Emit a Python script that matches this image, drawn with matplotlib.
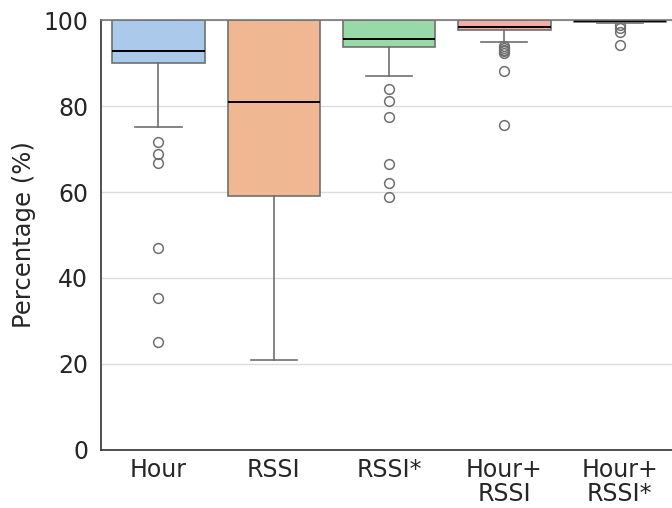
import matplotlib
matplotlib.use("Agg")
import matplotlib.pyplot as plt
import seaborn as sns

# Summary statistics for each model variant (percentage)
labels = ["Hour", "RSSI", "RSSI*", "Hour+\nRSSI", "Hour+\nRSSI*"]
medians = [92.7, 80.9, 95.7, 98.3, 99.8]
q1s = [90.0, 59.1, 93.8, 97.7, 99.6]
q3s = [100.0, 100.0, 100.0, 100.0, 100.0]
whis_low = [75.1, 20.9, 87.0, 94.8, 99.3]
whis_high = [100.0, 100.0, 100.0, 100.0, 100.0]
outliers = [
    [71.6, 68.8, 66.8, 47.0, 35.3, 25.1],
    [],
    [84.0, 81.1, 77.5, 66.6, 62.1, 58.8],
    [93.9, 93.5, 93.1, 92.7, 92.3, 88.1, 75.6],
    [98.8, 98.2, 97.3, 94.2],
]

palette = [sns.desaturate(c, 0.75) for c in sns.color_palette("pastel", 5)]
line_gray = "#6f6f6f"

plt.rcParams["font.family"] = ["DejaVu Sans"]

fig = plt.figure(figsize=(6.72, 5.08), dpi=100)
ax = fig.add_axes([0.150, 0.1142, 0.858, 0.8464])

stats = []
for lab, med, q1, q3, lo, hi, fl in zip(labels, medians, q1s, q3s,
                                        whis_low, whis_high, outliers):
    stats.append(dict(label=lab, med=med, q1=q1, q3=q3,
                      whislo=lo, whishi=hi, fliers=fl))

ax.yaxis.grid(True, color="#dcdcdc", linewidth=1.0, zorder=0)
ax.set_axisbelow(True)

bp = ax.bxp(
    stats,
    positions=range(len(labels)),
    widths=0.8,
    capwidths=0.4,
    patch_artist=True,
    boxprops=dict(edgecolor=line_gray, linewidth=1.2),
    medianprops=dict(color="black", linewidth=1.4),
    whiskerprops=dict(color=line_gray, linewidth=1.2),
    capprops=dict(color=line_gray, linewidth=1.2),
    flierprops=dict(marker="o", markerfacecolor="none",
                    markeredgecolor=line_gray, markersize=7,
                    markeredgewidth=1.1),
)
for patch, col in zip(bp["boxes"], palette):
    patch.set_facecolor(col)

ax.set_xlim(-0.5, len(labels) - 0.5)
ax.set_ylim(0, 100)
ax.set_yticks([0, 20, 40, 60, 80, 100])
ax.set_xticks(range(len(labels)))
ax.set_xticklabels(labels, linespacing=1.0)
ax.tick_params(axis="y", length=0, labelsize=17, colors="#262626", pad=9)
ax.tick_params(axis="x", length=0, labelsize=17, colors="#262626", pad=6)
ax.set_ylabel("Percentage (%)", fontsize=17.5, color="#262626", labelpad=5)

for side in ["left", "bottom"]:
    ax.spines[side].set_color("#333333")
    ax.spines[side].set_linewidth(1.2)
ax.spines["top"].set_color("#777777")
ax.spines["top"].set_linewidth(1.2)
ax.spines["right"].set_visible(False)

fig.savefig("out.png", dpi=100)
